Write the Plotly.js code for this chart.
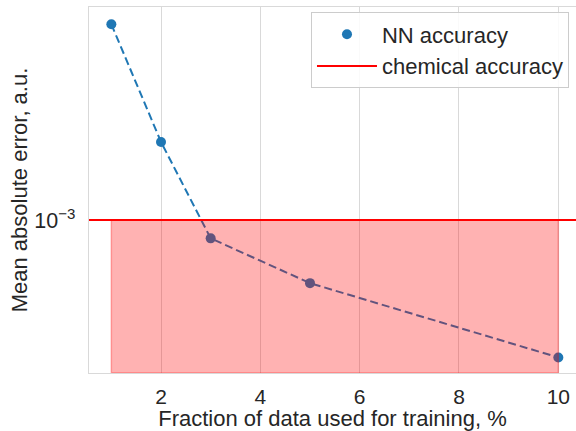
<!DOCTYPE html>
<html>
<head>
<meta charset="utf-8">
<script src="https://cdn.plot.ly/plotly-3.0.1.min.js"></script>
<style>html,body{margin:0;padding:0;background:#fff;}#chart{width:576px;height:431px;}</style>
</head>
<body>
<div id="chart"></div>
<script>
// Data
const fractions = [1, 2, 3, 5, 10];            // % of data used for training
const mae = [5.0e-3, 1.9e-3, 8.6e-4, 5.95e-4, 3.23e-4]; // mean absolute error, a.u.
const chemAcc = 1e-3;                           // chemical accuracy threshold
const xTickVals = [2, 4, 6, 8, 10];
const yTickVals = [1e-3];
const yTickText = ['10<sup>\u22123</sup>'];

// Axis ranges
const xRange = [0.55, 10.356];
const yRangeLog = [-3.5464, -2.2393];
const yBottom = Math.pow(10, yRangeLog[0]);

const blue = '#1f77b4';
const textColor = '#262626';
const gridColor = '#d9d9d9';
const FONT = 'Liberation Sans, Arial, sans-serif';

const xFirst = fractions[0], xLast = fractions[fractions.length - 1];

const traces = [
  { // dashed connecting line
    x: fractions, y: mae, mode: 'lines', showlegend: false,
    line: {color: blue, width: 2, dash: '8px,4px'}, hoverinfo: 'skip'
  },
  { // markers
    x: fractions, y: mae, mode: 'markers', name: 'NN accuracy',
    marker: {color: blue, size: 10}
  },
  { // shaded region below chemical accuracy
    x: [xFirst, xFirst, xLast, xLast, xFirst],
    y: [yBottom, chemAcc, chemAcc, yBottom, yBottom],
    mode: 'lines', fill: 'toself', showlegend: false,
    fillcolor: 'rgba(255,0,0,0.3)',
    line: {color: 'rgba(255,0,0,0.3)', width: 1.5}, hoverinfo: 'skip'
  },
  { // chemical accuracy line
    x: xRange, y: [chemAcc, chemAcc], mode: 'lines', name: 'chemical accuracy',
    line: {color: '#ff0000', width: 2}
  }
];

const layout = {
  width: 576, height: 431,
  margin: {l: 89, r: 0, t: 7, b: 58, pad: 0},
  paper_bgcolor: '#ffffff', plot_bgcolor: '#ffffff',
  font: {family: FONT, color: textColor, size: 20},
  xaxis: {
    range: xRange, tickvals: xTickVals, ticks: '', ticklabelstandoff: 4,
    showgrid: true, gridcolor: gridColor, gridwidth: 1, zeroline: false,
    showline: true, linecolor: gridColor, linewidth: 1.3, mirror: true,
    tickfont: {size: 21, color: textColor},
    title: {text: 'Fraction of data used for training, %', font: {size: 22, color: textColor}, standoff: 7},
    automargin: true
  },
  yaxis: {
    type: 'log', range: yRangeLog, tickvals: yTickVals, ticktext: yTickText, ticks: '',
    ticklabelstandoff: 8,
    showgrid: true, gridcolor: gridColor, gridwidth: 1, zeroline: false,
    showline: true, linecolor: gridColor, linewidth: 1.3, mirror: false,
    tickfont: {size: 21.5, color: textColor},
    title: {text: 'Mean absolute error, a.u.', font: {size: 22, color: textColor}, standoff: 0},
    automargin: true
  },
  legend: {
    x: 0.9856, y: 0.985, xanchor: 'right', yanchor: 'top',
    bgcolor: 'rgba(255,255,255,0.85)', bordercolor: '#cccccc', borderwidth: 1,
    font: {size: 22, color: textColor},
    itemwidth: 60
  },
  showlegend: true
};

Plotly.newPlot('chart', traces, layout, {staticPlot: true, displayModeBar: false});
</script>
</body>
</html>
